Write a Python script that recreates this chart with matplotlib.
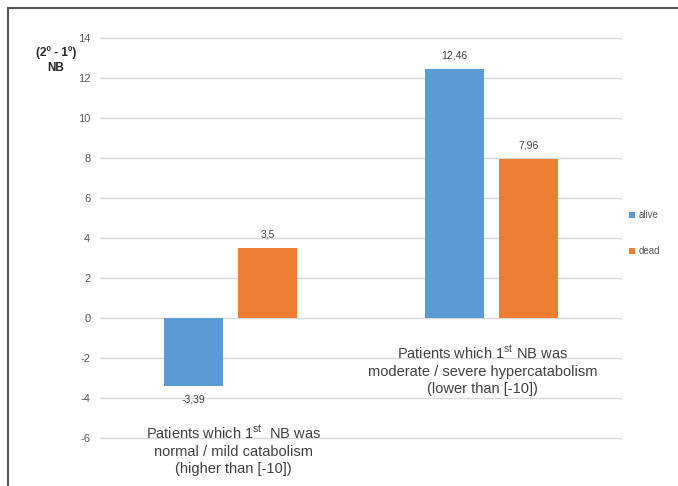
import matplotlib
matplotlib.use("Agg")
import matplotlib.pyplot as plt
from matplotlib.patches import Rectangle
import numpy as np

plt.rcParams['font.family'] = ['Liberation Sans', 'DejaVu Sans']
plt.rcParams['mathtext.fontset'] = 'custom'
plt.rcParams['mathtext.rm'] = 'Liberation Sans'
plt.rcParams['mathtext.it'] = 'Liberation Sans'

# Data
groups = [
    "Patients which 1$^{\\mathrm{st}}$  NB was\nnormal / mild catabolism\n(higher than [-10])",
    "Patients which 1$^{\\mathrm{st}}$ NB was\nmoderate / severe hypercatabolism\n(lower than [-10])",
]
series_names = ["alive", "dead"]
alive = [-3.39, 12.46]
dead = [3.5, 7.96]
y_ticks = [-6, -4, -2, 0, 2, 4, 6, 8, 10, 12, 14]

colors = {"alive": "#5b9bd5", "dead": "#ed7d31"}

fig = plt.figure(figsize=(6.78, 4.86), dpi=100, facecolor="white")
# axes span y from -6.1 to 14.1 so the outer gridlines are fully drawn
ax = fig.add_axes([100 / 678, 1 - 440 / 486, 522 / 678, 404 / 486])
ax.set_facecolor("white")

x = np.arange(len(groups))
w = 0.226
off = 0.142
for vals, name, sgn in [(alive, "alive", -1), (dead, "dead", 1)]:
    bars = ax.bar(x + sgn * off, vals, width=w, color=colors[name], label=name, zorder=3)
    for b, v in zip(bars, vals):
        label = f"{v:g}".replace(".", ",")
        if v >= 0:
            ax.annotate(label, (b.get_x() + b.get_width() / 2, v), xytext=(0, 6),
                        textcoords="offset points", ha="center", va="bottom",
                        fontsize=7.5, color="#404040")
        else:
            ax.annotate(label, (b.get_x() + b.get_width() / 2, v), xytext=(0, -6),
                        textcoords="offset points", ha="center", va="top",
                        fontsize=7.5, color="#404040")

ax.set_xlim(-0.5, 1.5)
ax.set_ylim(-6.1, 14.1)
ax.set_yticks(y_ticks)
ax.set_yticklabels([str(t) for t in y_ticks], fontsize=8, color="#595959")
ax.set_xticks([])
ax.tick_params(axis="y", length=0, pad=7)
ax.grid(axis="y", color="#d9d9d9", linewidth=1, zorder=0)
for s in ax.spines.values():
    s.set_visible(False)

# Category captions inside the plot area
ax.text(0.01, -6.6, groups[0], ha="center", va="center", fontsize=10.5,
        color="#404040", linespacing=1.27, zorder=4)
ax.text(0.967, -2.6, groups[1], ha="center", va="center", fontsize=10.5,
        color="#404040", linespacing=1.27, zorder=4)

# Axis title
fig.text(56 / 678, 1 - 60 / 486, "(2º - 1º)\nNB", ha="center", va="center",
         fontsize=8.5, fontweight="bold", color="#262626", linespacing=1.4)

ax.legend(loc="center left", bbox_to_anchor=(1.0, 0.512), frameon=False,
          fontsize=7, labelcolor="#595959", handlelength=0.6, handleheight=0.6,
          labelspacing=2.7, handletextpad=0.4, borderaxespad=0.3)

# Frame around the figure
fig.add_artist(Rectangle((8 / 678, -0.1), 1.2, 1 - 8 / 486 + 0.1,
                         transform=fig.transFigure, fill=False,
                         edgecolor="#555555", linewidth=1.5))

fig.savefig("out.png", dpi=100, facecolor="white")
